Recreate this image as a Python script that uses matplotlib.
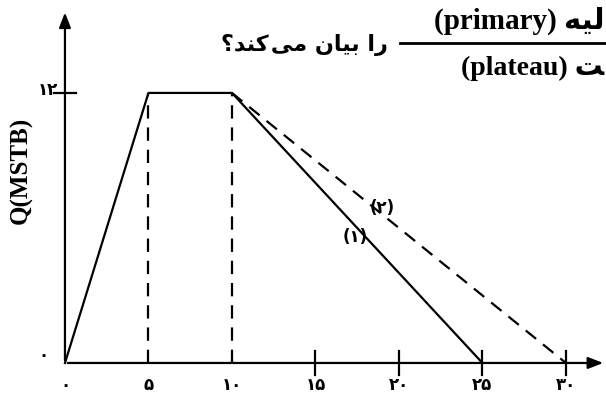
import matplotlib
matplotlib.use("Agg")
import matplotlib.pyplot as plt

# production profile (time in years, rate in MSTB)
t_solid = [0, 5, 10, 25]
q_solid = [0, 12, 12, 0]
t_dash = [10, 30]
q_dash = [12, 0]
t_marks = [5, 10]          # vertical dashed guides
x_ticks = [0, 5, 10, 15, 20, 25, 30]
x_ticklabels = ["۰", "۵", "۱۰", "۱۵", "۲۰", "۲۵", "۳۰"]
y_ticks = [0, 12]
y_ticklabels = ["۰", "۱۲"]

# persian text written in visual order with presentation forms (no shaping in matplotlib)
q_text = "؟ﺪﻨﮐ\u200aﯽﻣ ﻥﺎﯿﺑ ﺍﺭ"
top_text = "(primary) ﻪﯿﻟ"
bot_text = "(plateau) ﺖ"

fig = plt.figure(figsize=(6.06, 4.01), dpi=100)
ax = fig.add_axes([0, 0, 1, 1])
ax.set_xlim(-3.89, 32.4)
ax.set_ylim(-1.69, 16.13)
ax.axis("off")

lw = 1.6
# axes with arrows
ax.annotate("", xy=(32.4, 0), xytext=(0, 0),
            arrowprops=dict(arrowstyle="-|>,head_length=0.9,head_width=0.35", color="black", lw=lw))
ax.annotate("", xy=(0, 15.7), xytext=(0, 0),
            arrowprops=dict(arrowstyle="-|>,head_length=0.9,head_width=0.35", color="black", lw=lw))

ax.plot(t_solid, q_solid, color="black", lw=lw)
ax.plot(t_dash, q_dash, color="black", lw=lw, dashes=(6, 4))
for t in t_marks:
    ax.plot([t, t], [0, 12], color="black", lw=lw, dashes=(6, 4))

# tick marks
for t in x_ticks[3:]:
    ax.plot([t, t], [-0.55, 0.55], color="black", lw=lw)
ax.plot([-0.66, 0.66], [12, 12], color="black", lw=lw)

dig_font = ["DejaVu Sans"]
for t, lab in zip(x_ticks, x_ticklabels):
    ax.text(t, -1.0, lab, ha="center", va="center", fontsize=12, fontweight="bold", family=dig_font)
ax.text(-1.3, 0.35, y_ticklabels[0], ha="center", va="center", fontsize=12, fontweight="bold", family=dig_font)
ax.text(-1.0, 12.15, y_ticklabels[1], ha="center", va="center", fontsize=12, fontweight="bold", family=dig_font)

ax.text(17.4, 5.6, "(۱)", ha="center", va="center", fontsize=12, fontweight="bold", family=dig_font)
ax.text(19.0, 6.9, "(۲)", ha="center", va="center", fontsize=12, fontweight="bold", family=dig_font)

ax.text(0.035, 0.575, "Q(MSTB)", transform=ax.transAxes, rotation=90, ha="center", va="center",
        fontsize=18, fontweight="bold", family=["Liberation Serif"])

# question fragment at top
mixed = ["Liberation Serif", "DejaVu Sans"]
ax.text(0.997, 0.948, top_text, transform=ax.transAxes, ha="right", va="center",
        fontsize=21, fontweight="bold", family=mixed)
ax.text(0.997, 0.83, bot_text, transform=ax.transAxes, ha="right", va="center",
        fontsize=20, fontweight="bold", family=mixed)
ax.text(0.64, 0.887, q_text, transform=ax.transAxes, ha="right", va="center",
        fontsize=16, fontweight="bold", family=["DejaVu Sans"])
ax.plot([0.66, 1.0], [0.893, 0.893], transform=ax.transAxes, color="black", lw=2)

fig.savefig("out.png", dpi=100)
